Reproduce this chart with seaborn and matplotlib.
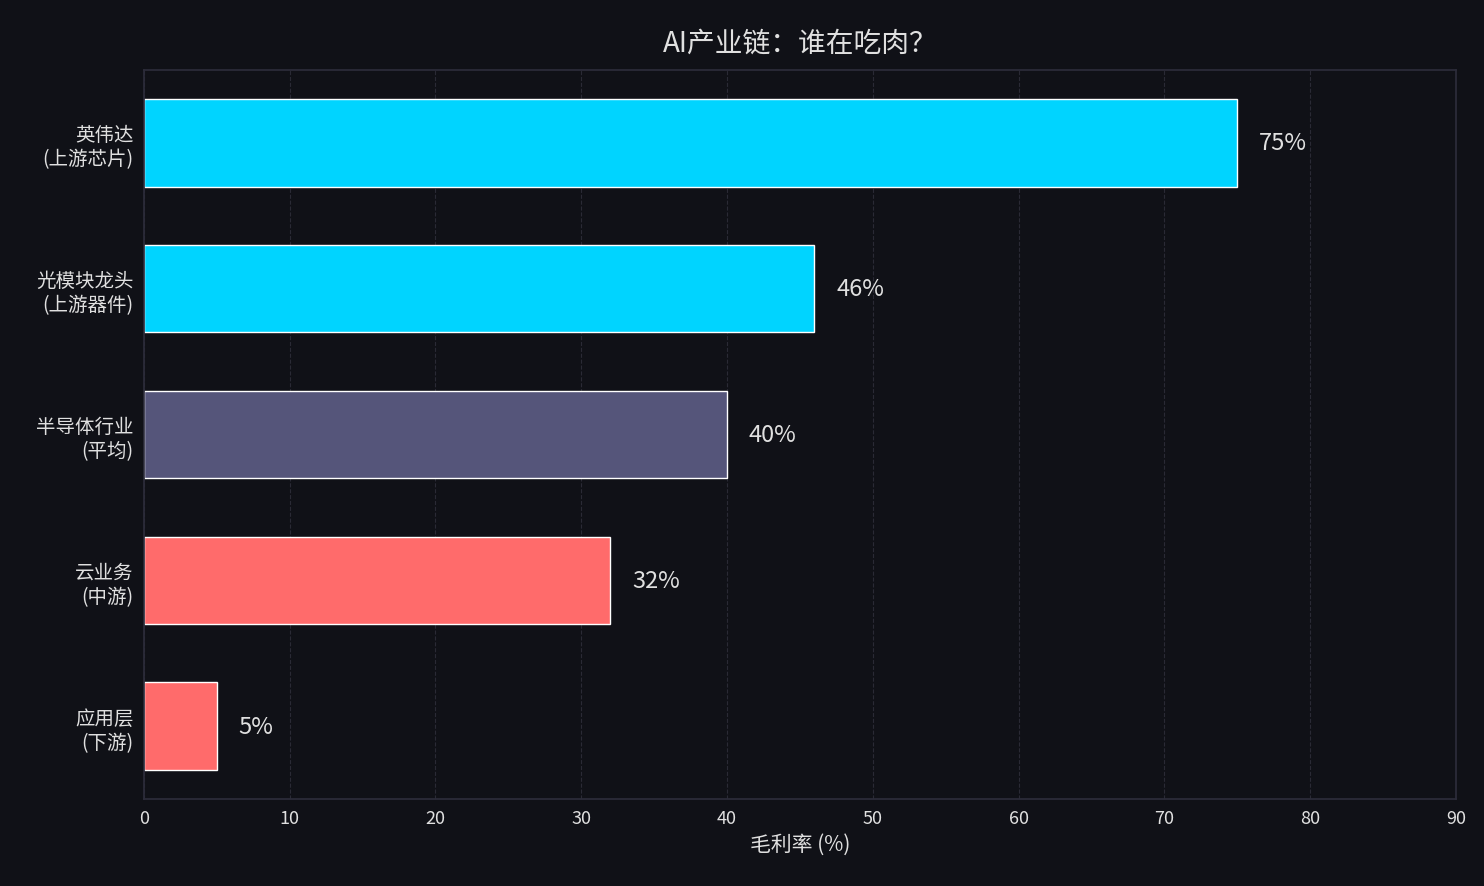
import seaborn as sns
import matplotlib.pyplot as plt
import pandas as pd

# chart data
categories = ['英伟达\n(上游芯片)', '光模块龙头\n(上游器件)', '半导体行业\n(平均)', '云业务\n(中游)', '应用层\n(下游)']
margins = [75, 46, 40, 32, 5]
colors = ['#00D4FF', '#00D4FF', '#55557A', '#FF6B6B', '#FF6B6B']

BG = '#101117'
TEXT = '#E0E0E0'

sns.set_theme(style='dark')
plt.rcParams['font.family'] = ['Noto Sans CJK SC', 'DejaVu Sans']

df = pd.DataFrame({'cat': categories, 'margin': margins})

fig = plt.figure(figsize=(14.84, 8.87), dpi=100, facecolor=BG)
ax = fig.add_axes([0.097, 0.098, 0.884, 0.822], facecolor=BG)

sns.barplot(data=df, x='margin', y='cat', hue='cat', palette=colors,
            legend=False, width=0.6, saturation=1, ax=ax)

for i, v in enumerate(margins):
    ax.text(v + 1.5, i, f'{v}%', va='center', ha='left', color=TEXT, fontsize=17)

ax.set_xlim(0, 90)
ax.set_xticks(range(0, 91, 10))
ax.set_xlabel('毛利率 (%)', color=TEXT, fontsize=15)
ax.set_ylabel('')
ax.set_title('AI产业链：谁在吃肉？', color=TEXT, fontsize=20, pad=14)
ax.tick_params(axis='x', colors=TEXT, labelsize=13, length=4)
ax.tick_params(axis='y', colors=TEXT, labelsize=14, length=4)
ax.grid(axis='x', color='#2a2a35', linestyle='--', linewidth=0.8)
ax.grid(axis='y', visible=False)
ax.set_axisbelow(True)
for s in ax.spines.values():
    s.set_color('#2c2c3a')
    s.set_visible(True)

fig.savefig('out.png', dpi=100, facecolor=BG)
